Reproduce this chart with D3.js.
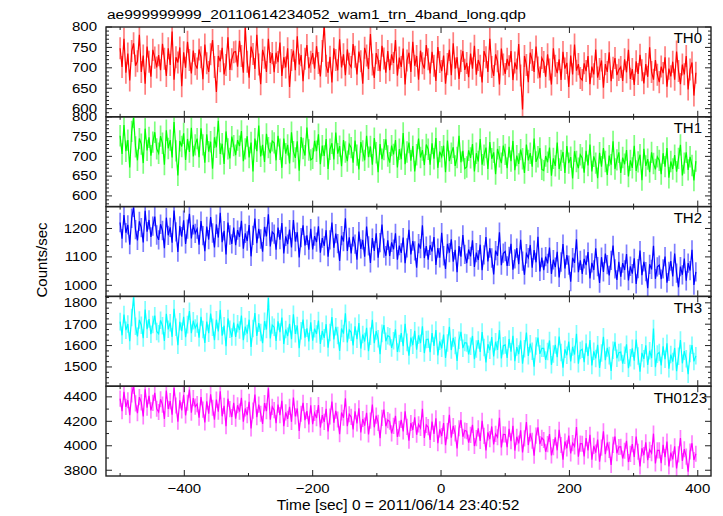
<!DOCTYPE html>
<html><head><meta charset="utf-8">
<script src="https://cdn.jsdelivr.net/npm/d3@7"></script>
<style>body{margin:0;background:#fff;} text{font-family:"Liberation Sans",Arial,Helvetica,sans-serif;fill:#000;}</style>
</head><body><svg id="c" width="723" height="516"></svg>
<script>
const bandNames = ["TH0", "TH1", "TH2", "TH3", "TH0123"];
const timeStart = -500, timeStep = 3;   // 3-s sampling of the light curve
const th0 = [
748,702,771,688,735,669,741,760,705,716,781,690,730,661,752,715,678,744,725,701,
731,694,759,722,680,748,707,789,671,726,713,750,655,738,700,764,719,686,742,709,
698,745,726,672,757,711,690,733,768,702,641,729,716,749,684,707,775,695,721,738,
740,703,766,729,688,798,715,676,752,734,697,781,708,660,744,725,690,771,712,736,
689,737,714,762,680,726,701,748,653,719,742,694,777,708,731,667,722,756,699,715,
736,698,753,712,679,741,806,705,688,727,664,748,719,694,770,701,733,682,745,710,
702,758,727,684,740,716,661,749,730,697,783,708,675,736,719,692,754,723,688,741,
694,733,712,768,681,725,702,747,659,718,737,690,764,705,729,671,742,711,698,756,
721,686,739,705,668,751,714,692,730,661,709,744,682,760,698,726,673,717,741,695,
712,677,735,698,754,683,719,705,664,741,726,690,771,702,680,733,716,659,747,708,
685,722,704,741,670,713,696,758,681,598,729,707,665,737,719,690,752,701,676,724,
714,678,733,696,659,748,705,687,721,670,739,698,712,653,730,684,757,693,709,675,
670,711,692,729,660,703,684,745,676,697,718,651,709,690,738,667,700,724,682,695,
702,668,721,689,744,673,697,658,716,685,732,694,662,709,678,750,690,671,719,683,
665,703,687,726,654,698,679,715,671,740,692,660,708,684,729,647,696,713,632,688];
const th1 = [
752,706,779,713,741,672,763,798,724,690,745,731,683,770,715,748,702,736,761,719,
708,751,733,679,766,720,741,697,787,714,652,739,725,758,691,744,711,772,700,729,
745,698,771,729,684,756,712,737,669,748,723,790,706,732,681,763,719,695,750,727,
703,741,726,764,688,719,751,697,735,662,745,713,778,700,729,686,757,722,708,739,
734,690,752,718,671,745,707,729,682,761,712,696,738,664,749,720,702,773,716,691,
695,739,713,756,680,727,701,744,668,718,733,692,760,707,726,675,741,711,688,731,
722,684,740,703,667,736,714,690,752,698,725,679,746,709,660,731,693,717,743,701,
684,727,705,741,672,718,693,759,680,711,735,689,726,662,704,745,697,716,678,730,
718,679,733,694,746,671,712,699,727,660,740,688,708,723,676,697,752,685,714,669,
673,715,696,731,662,708,687,744,679,703,722,668,736,694,710,655,719,699,683,727,
705,670,724,688,739,665,702,681,717,694,658,730,690,708,674,745,686,699,721,667,
664,701,685,722,651,695,676,735,668,690,711,658,726,683,698,644,713,687,670,704,
696,659,714,677,730,662,700,683,645,709,674,721,687,653,702,679,738,668,691,710,
658,697,680,716,649,690,671,727,663,686,704,640,719,676,693,660,710,682,667,699,
690,655,708,674,721,646,687,668,703,661,695,729,652,683,710,666,699,677,639,688];
const th2 = [
1221,1164,1247,1185,1213,1143,1236,1274,1196,1158,1225,1203,1151,1262,1189,1230,1170,1208,1242,1177,
1160,1215,1193,1131,1238,1176,1204,1150,1263,1188,1117,1209,1171,1229,1146,1198,1252,1165,1213,1183,
1198,1143,1226,1175,1120,1207,1161,1240,1184,1133,1215,1168,1255,1152,1192,1109,1221,1177,1146,1203,
1141,1194,1170,1227,1129,1183,1156,1212,1102,1176,1235,1148,1199,1163,1118,1206,1172,1250,1137,1188,
1180,1125,1203,1161,1219,1112,1172,1145,1196,1133,1230,1154,1187,1098,1168,1211,1140,1176,1125,1199,
1126,1173,1152,1208,1115,1166,1139,1194,1101,1160,1221,1132,1182,1147,1086,1175,1154,1236,1121,1169,
1112,1171,1145,1090,1189,1128,1160,1101,1207,1139,1079,1166,1121,1183,1097,1150,1214,1131,1104,1158,
1103,1151,1127,1183,1090,1140,1114,1168,1078,1132,1195,1109,1156,1121,1062,1147,1129,1211,1096,1138,
1090,1141,1119,1170,1072,1131,1097,1185,1104,1058,1146,1115,1162,1083,1125,1046,1138,1101,1177,1109,
1078,1126,1102,1158,1065,1115,1089,1143,1053,1107,1170,1084,1131,1096,1038,1122,1104,1187,1071,1113,
1119,1068,1102,1146,1055,1093,1131,1074,1160,1085,1037,1111,1097,1142,1062,1124,1081,1171,1049,1098,
1053,1101,1077,1133,1040,1090,1064,1118,1028,1082,1145,1059,1106,1071,1013,1097,1079,1162,1046,1088,
1040,1093,1071,1117,1024,1079,1054,1130,1066,1008,1099,1047,1112,1073,1035,1088,1140,1058,1019,1083,
1030,1078,1054,1110,1017,1067,1041,1095,1005,1059,1122,1036,1083,1048,990,1074,1056,1139,1023,1065,
1071,1022,1058,1101,1009,1049,1085,1031,1112,1043,993,1066,1037,1094,1016,1078,1052,1125,1001,1047];
const th3 = [
1712,1648,1745,1672,1701,1621,1731,1826,1690,1643,1720,1695,1635,1768,1677,1724,1653,1699,1740,1666,
1655,1718,1693,1622,1749,1676,1707,1641,1772,1686,1602,1711,1667,1735,1639,1698,1761,1658,1716,1682,
1701,1637,1734,1675,1612,1712,1658,1750,1686,1625,1721,1666,1767,1646,1693,1597,1727,1676,1640,1708,
1640,1702,1673,1740,1625,1689,1656,1721,1594,1680,1752,1645,1705,1661,1611,1714,1675,1822,1633,1696,
1686,1622,1713,1663,1731,1607,1675,1644,1702,1630,1746,1655,1694,1588,1669,1722,1637,1681,1619,1709,
1623,1679,1654,1717,1608,1668,1636,1700,1590,1661,1733,1629,1688,1647,1575,1680,1656,1751,1615,1673,
1662,1601,1690,1630,1705,1586,1652,1619,1683,1574,1644,1720,1611,1668,1632,1560,1657,1696,1620,1646,
1641,1589,1623,1676,1570,1610,1658,1597,1702,1615,1553,1637,1602,1669,1581,1648,1611,1690,1565,1628,
1630,1569,1658,1598,1673,1554,1620,1587,1651,1542,1612,1688,1579,1636,1600,1528,1625,1664,1588,1614,
1612,1559,1597,1645,1536,1584,1626,1570,1663,1591,1521,1606,1578,1640,1549,1618,1580,1672,1540,1599,
1603,1542,1631,1571,1646,1527,1593,1560,1624,1515,1585,1661,1552,1609,1573,1501,1598,1637,1561,1587,
1587,1533,1572,1624,1510,1561,1603,1546,1642,1568,1497,1583,1555,1619,1526,1594,1558,1655,1515,1577,
1583,1522,1611,1551,1626,1507,1573,1540,1604,1495,1565,1641,1532,1589,1553,1481,1578,1617,1541,1567,
1570,1516,1555,1606,1494,1543,1587,1529,1628,1551,1478,1566,1538,1601,1509,1576,1541,1680,1499,1560,
1568,1507,1596,1536,1611,1492,1558,1525,1589,1480,1550,1626,1517,1574,1538,1466,1563,1602,1526,1552];
const th0123 = [
4385,4282,4441,4318,4372,4251,4420,4490,4347,4266,4398,4355,4240,4462,4311,4409,4290,4351,4432,4303,
4276,4380,4337,4219,4451,4302,4365,4255,4473,4329,4197,4371,4290,4416,4248,4352,4459,4271,4389,4320,
4341,4230,4398,4295,4190,4363,4262,4420,4311,4214,4377,4278,4446,4241,4326,4161,4385,4300,4235,4352,
4222,4331,4279,4392,4197,4305,4250,4360,4142,4287,4418,4234,4337,4262,4179,4349,4283,4470,4213,4318,
4291,4185,4337,4250,4368,4160,4273,4220,4318,4196,4395,4240,4305,4121,4262,4351,4209,4284,4175,4330,
4177,4268,4226,4333,4149,4250,4195,4302,4118,4239,4361,4188,4286,4215,4094,4272,4229,4388,4161,4258,
4236,4134,4282,4183,4307,4109,4219,4165,4270,4093,4206,4337,4151,4247,4187,4062,4228,4295,4160,4210,
4198,4101,4163,4244,4072,4139,4212,4117,4281,4155,4041,4186,4129,4233,4090,4175,4146,4302,4064,4170,
4152,4048,4198,4097,4224,4021,4134,4079,4186,4005,4120,4253,4066,4162,4101,3979,4143,4211,4074,4125,
4120,4026,4089,4171,3998,4063,4142,4040,4205,4081,3962,4110,4054,4158,4012,4097,4070,4229,3987,4093,
4092,3988,4138,4037,4164,3961,4074,4019,4126,3945,4060,4193,4006,4102,4041,3919,4083,4151,4014,4065,
4047,3951,4014,4096,3922,3989,4068,3963,4130,4006,3887,4035,3979,4083,3937,4022,3995,4154,3911,4018,
4017,3913,4063,3962,4089,3886,3999,3944,4051,3870,3985,4118,3931,4027,3966,3844,4008,4076,3939,3990,
3992,3896,3959,4041,3867,3934,4013,3908,4075,3951,3832,3980,3924,4028,3882,3967,3940,4099,3856,3963,
3962,3858,4008,3907,4034,3831,3944,3889,3996,3815,3930,4063,3876,3972,3911,3789,3953,4021,3884,3935];
const seriesValues = [th0, th1, th2, th3, th0123];
const errHalf = [27, 27, 34, 41, 66];          // 1-sigma error bars (counts/sec)
const xTicksMajor = [-400, -200, 0, 200, 400];
const xTicksMinor = [-500, -300, -100, 100, 300];
const yTicksMajor = [[600,650,700,750,800],[600,650,700,750,800],[1000,1100,1200],[1500,1600,1700,1800],[3800,4000,4200,4400]];
const yMinorStep = [10, 10, 20, 25, 100];
const yDomains = [[580,800],[573,800],[961,1277],[1410,1830],[3753,4487]];
const colors = ["#ff0000", "#00ff00", "#0000ff", "#00ffff", "#ff00ff"];
const titleText = "ae999999999_20110614234052_wam1_trn_4band_long.qdp";
const xLabelText = "Time [sec] 0 = 2011/06/14 23:40:52";
const yLabelText = "Counts/sec";

const svg = d3.select("#c");
svg.append("rect").attr("width", 723).attr("height", 516).attr("fill", "#fff");
const L = 106, R = 711, T = 27, B = 476;
const panelH = (B - T) / 5;
const x = d3.scaleLinear().domain([-522, 420.6]).range([L, R]);
const frameColor = "#222";
const defs = svg.append("defs");
const labelRight = [702, 702, 702, 702, 707];

// text drawn with the slightly flattened glyph shape of the reference
function squashText(px, py, sy, size, anchor, dy, str) {
  svg.append("text").attr("transform", `translate(${px},${py}) scale(1,${sy})`)
    .attr("text-anchor", anchor).attr("dy", dy).attr("font-size", size).text(str);
}

seriesValues.forEach((vals, p) => {
  const top = T + p * panelH, bot = top + panelH;
  const y = d3.scaleLinear().domain(yDomains[p]).range([bot, top]);
  const data = vals.map((v, i) => ({t: timeStart + i * timeStep, v}));
  const cid = "clip" + p;
  defs.append("clipPath").attr("id", cid).append("rect")
    .attr("x", L).attr("y", top).attr("width", R - L).attr("height", panelH);
  const g = svg.append("g").attr("clip-path", `url(#${cid})`);
  g.selectAll("line.err").data(data).join("line")
    .attr("x1", d => x(d.t)).attr("x2", d => x(d.t))
    .attr("y1", d => y(d.v - errHalf[p])).attr("y2", d => y(d.v + errHalf[p]))
    .attr("stroke", colors[p]).attr("stroke-opacity", 0.5).attr("stroke-width", 1.7);
  g.append("path").datum(data)
    .attr("d", d3.line().x(d => x(d.t)).y(d => y(d.v)))
    .attr("fill", "none").attr("stroke", colors[p]).attr("stroke-width", 1.2);

  // y ticks (left & right, inward)
  const [lo, hi] = yDomains[p];
  const minors = d3.range(Math.ceil(lo / yMinorStep[p]) * yMinorStep[p], hi + 0.001, yMinorStep[p]);
  const tg = svg.append("g").attr("stroke", frameColor).attr("stroke-width", 1);
  minors.forEach(v => {
    const major = yTicksMajor[p].includes(v);
    const len = major ? 6 : 3;
    tg.append("line").attr("x1", L).attr("x2", L + len).attr("y1", y(v)).attr("y2", y(v));
    tg.append("line").attr("x1", R).attr("x2", R - len).attr("y1", y(v)).attr("y2", y(v));
  });
  yTicksMajor[p].forEach(v => squashText(97, y(v), 0.8, 15, "end", "0.36em", v));
  // x ticks top & bottom
  xTicksMajor.concat(xTicksMinor).forEach(t => {
    const len = xTicksMajor.includes(t) ? 6 : 3;
    tg.append("line").attr("x1", x(t)).attr("x2", x(t)).attr("y1", top).attr("y2", top + len);
    tg.append("line").attr("x1", x(t)).attr("x2", x(t)).attr("y1", bot).attr("y2", bot - len);
  });
  svg.append("text").attr("x", labelRight[p]).attr("y", top + 16.4)
    .attr("text-anchor", "end").attr("font-size", 15).text(bandNames[p]);
  svg.append("rect").attr("x", L).attr("y", top).attr("width", R - L).attr("height", panelH)
    .attr("fill", "none").attr("stroke", frameColor).attr("stroke-width", 1.4);
});

xTicksMajor.forEach(t => {
  squashText(x(t), 493, 0.88, 15, "middle", 0, t < 0 ? "\u2212" + Math.abs(t) : String(t));
});
squashText(107, 18.5, 0.82, 15.5, "start", 0, titleText);
svg.append("text").attr("x", 398).attr("y", 510).attr("text-anchor", "middle")
  .attr("font-size", 15.5).text(xLabelText);
svg.append("text").attr("transform", "translate(46.5,260) rotate(-90)")
  .attr("text-anchor", "middle").attr("font-size", 15).text(yLabelText);
</script></body></html>
